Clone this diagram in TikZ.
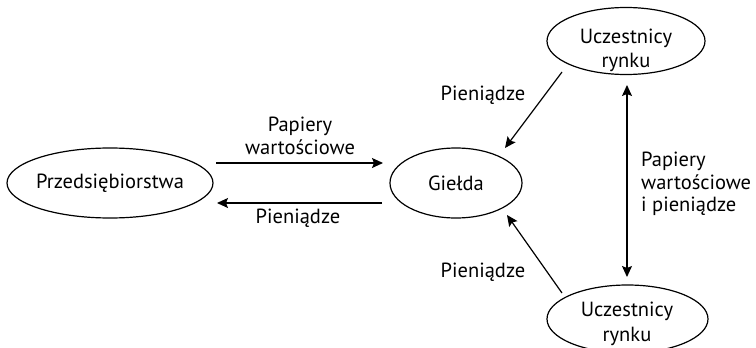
\documentclass[tikz,border=0pt]{standalone}
\usepackage{fontspec}
\setmainfont{PT Sans}
\usetikzlibrary{shapes.geometric,arrows.meta}
\tikzset{
  oval/.style={draw, ellipse, line width=1.2pt, inner sep=0pt},
  lbl/.style={inner sep=0pt, font=\fontsize{20.5}{22.5}\selectfont},
  arr/.style={line width=1.2pt, -{Stealth[length=11pt,width=10pt,inset=2pt]}},
  darr/.style={line width=1.2pt, {Stealth[length=11pt,width=10pt,inset=2pt]}-{Stealth[length=11pt,width=10pt,inset=2pt]}}
}
\begin{document}
\begin{tikzpicture}[x=1pt,y=-1pt]
\useasboundingbox (0,0) rectangle (756,348);
% ellipses
\node[oval, minimum width=206pt, minimum height=70pt] (p) at (110,183) {};
\node[oval, minimum width=132pt, minimum height=70pt] (g) at (456,183) {};
\node[oval, minimum width=158pt, minimum height=67pt] (u1) at (626,41) {};
\node[oval, minimum width=161pt, minimum height=68pt] (u2) at (627.5,319) {};
% texts inside ellipses
\node[lbl] (pt) at (p.center) {Przedsiębiorstwa};
\node[lbl] (gt) at (g.center) {Giełda};
\node[lbl, align=center, font=\fontsize{20.5}{23.5}\selectfont] (u1t) at (626,50.5) {Uczestnicy\\rynku};
\node[lbl, align=center, font=\fontsize{20.5}{25}\selectfont] (u2t) at (627,323.5) {Uczestnicy\\rynku};
% connector ends
\coordinate (a1s) at (216,163);
\coordinate (a1e) at (383,163);
\coordinate (a2s) at (382,203);
\coordinate (a2e) at (217,203);
\coordinate (d1s) at (562,72);
\coordinate (d1e) at (505,148);
\coordinate (d2s) at (562,293);
\coordinate (d2e) at (507,215);
\coordinate (vs) at (627,85);
\coordinate (ve) at (627,277);
\draw[arr] (a1s) -- (a1e);
\draw[arr] (a2s) -- (a2e);
\draw[arr] (d1s) -- (d1e);
\draw[arr] (d2s) -- (d2e);
\draw[darr] (vs) -- (ve);
% labels
\node[lbl, align=center] (l1) at (300,136) {Papiery\\wartościowe};
\node[lbl] (l2) at (298,218) {Pieniądze};
\node[lbl] (l3) at (483,95) {Pieniądze};
\node[lbl] (l4) at (483,272) {Pieniądze};
\node[lbl, align=left, anchor=west] (l5) at (641,184) {Papiery\\wartościowe\\i pieniądze};
\end{tikzpicture}
\end{document}
